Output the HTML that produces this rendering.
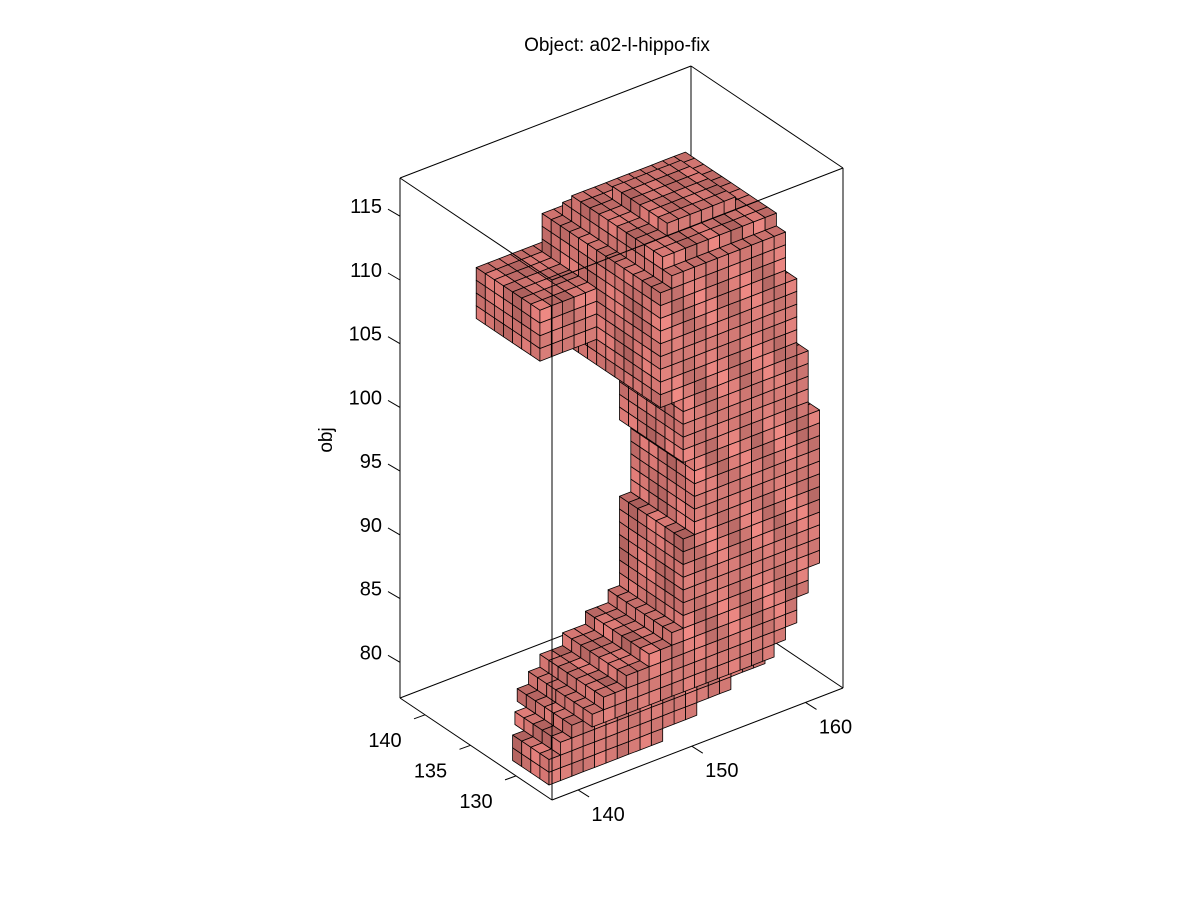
<!DOCTYPE html>
<html><head><meta charset="utf-8"><style>
html,body{margin:0;padding:0;background:#fff;}
svg text{font-family:"Liberation Sans",sans-serif;fill:#000;}
</style></head><body>
<svg id="chart" width="1200" height="900" viewBox="0 0 1200 900" xmlns="http://www.w3.org/2000/svg">
<rect x="0" y="0" width="1200" height="900" fill="#fff"/>
<text x="617" y="51" font-size="19" text-anchor="middle">Object: a02-l-hippo-fix</text>
<text x="0" y="0" font-size="19" text-anchor="middle" transform="translate(332,440) rotate(-90)">obj</text>
<g id="back"></g>
<g id="vox"></g>
<g id="front"></g>
<g id="ticks"></g>
</svg>
<script>
// axis ranges
const xRange = [137.7, 163.3];
const yRange = [126.05, 142.75];
const zRange = [77.2, 118.0];
const xTicks = [140, 150, 160];
const yTicks = [130, 135, 140];
const zTicks = [80, 85, 90, 95, 100, 105, 110, 115];
// voxel slices: per z level, x range and y range
const sliceZ  = [77,78,79,80,81,82,83,84,85,86,87,88,89,90,91,92,93,94,95,96,97,98,99,100,101,102,103,104,105,106,107,108,109,110,111,112,113,114,115];
const sliceXa = [139,139,140,141,142,143,145,147,149,150,150,150,150,150,150,150,151,151,151,151,151,151,150,150,150,150,150,148,148,148,148,148,148,148,148,148,149,149,151];
const sliceXb = [148,151,154,157,157,158,159,159,160,160,161,161,161,161,161,161,161,161,161,161,161,161,160,160,160,160,160,159,159,159,159,159,159,158,158,158,158,158,156];
const sliceYa = [128,128,128,128,127,127,127,127,127,127,127,127,127,127,127,127,127,127,127,127,127,127,127,127,127,127,127,127,127,127,127,127,127,127,127,127,127,128,130];
const sliceYb = [131,131,132,133,133,133,133,133,133,133,133,133,133,133,133,133,133,133,133,133,133,133,133,133,133,133,133,140,140,140,140,140,140,139,139,139,138,137,135];
// lobe block
const lobeZ = [106,107,108,109];
const lobeXa = [143,143,143,143];
const lobeXb = [147,147,147,147];
const lobeYa = [134,134,134,134];
const lobeYb = [140,140,140,140];

const NS = "http://www.w3.org/2000/svg";
const FB = [552, 800], XV = [291, -112], YV = [-152, -102], ZV = [0, -520];
function P(x, y, z) {
  const fx = (x - xRange[0]) / (xRange[1] - xRange[0]);
  const fy = (y - yRange[0]) / (yRange[1] - yRange[0]);
  const fz = (z - zRange[0]) / (zRange[1] - zRange[0]);
  return [FB[0] + fx * XV[0] + fy * YV[0] + fz * ZV[0], FB[1] + fx * XV[1] + fy * YV[1] + fz * ZV[1]];
}
function line(g, a, b, name) {
  const l = document.createElementNS(NS, "line");
  l.setAttribute("x1", a[0].toFixed(1)); l.setAttribute("y1", a[1].toFixed(1));
  l.setAttribute("x2", b[0].toFixed(1)); l.setAttribute("y2", b[1].toFixed(1));
  l.setAttribute("stroke", "#000"); l.setAttribute("stroke-width", "1");
  
  
  g.appendChild(l);
}
const [x0, x1] = xRange, [y0, y1] = yRange, [z0, z1] = zRange;
const back = document.getElementById("back"), front = document.getElementById("front");
line(back, P(x1, y1, z0), P(x1, y1, z1), "box-edge");
line(back, P(x0, y1, z0), P(x1, y1, z0), "box-edge");
line(back, P(x1, y0, z0), P(x1, y1, z0), "box-edge");
line(front, P(x0, y0, z0), P(x0, y0, z1), "box-edge");
line(front, P(x0, y0, z0), P(x1, y0, z0), "box-edge");
line(front, P(x0, y0, z0), P(x0, y1, z0), "box-edge");
line(front, P(x0, y1, z0), P(x0, y1, z1), "box-edge");
line(front, P(x1, y0, z0), P(x1, y0, z1), "box-edge");
line(front, P(x0, y0, z1), P(x1, y0, z1), "box-edge");
line(front, P(x0, y0, z1), P(x0, y1, z1), "box-edge");
line(front, P(x1, y1, z1), P(x1, y0, z1), "box-edge");
line(front, P(x1, y1, z1), P(x0, y1, z1), "box-edge");

// voxels
const occ = new Set();
const vox = [];
function add(x, y, z) { const k = x + "," + y + "," + z; if (!occ.has(k)) { occ.add(k); vox.push([x, y, z]); } }
for (let i = 0; i < sliceZ.length; i++)
  for (let x = sliceXa[i]; x <= sliceXb[i]; x++)
    for (let y = sliceYa[i]; y <= sliceYb[i]; y++) add(x, y, sliceZ[i]);
for (let i = 0; i < lobeZ.length; i++)
  for (let x = lobeXa[i]; x <= lobeXb[i]; x++)
    for (let y = lobeYa[i]; y <= lobeYb[i]; y++) add(x, y, lobeZ[i]);
const has = (x, y, z) => occ.has(x + "," + y + "," + z);
vox.sort((a, b) => (a[2] - a[0] - a[1]) - (b[2] - b[0] - b[1]));
const vg = document.getElementById("vox");
function shade(base, x, y, z) {
  const v = 0.95 + 0.13 * Math.sin(x * 1.7 + z * 0.9) * Math.cos(y * 1.3 - z * 0.5);
  return "rgb(" + base.map(c => Math.min(255, Math.round(c * v))).join(",") + ")";
}
function face(pts, fill) {
  const p = document.createElementNS(NS, "polygon");
  p.setAttribute("points", pts.map(q => q[0].toFixed(1) + "," + q[1].toFixed(1)).join(" "));
  p.setAttribute("fill", fill);
  p.setAttribute("stroke", "#000");
  p.setAttribute("stroke-width", "0.8");
  p.setAttribute("stroke-linejoin", "round");
  
  
  vg.appendChild(p);
}
for (const [x, y, z] of vox) {
  if (!has(x - 1, y, z)) face([P(x, y, z), P(x, y + 1, z), P(x, y + 1, z + 1), P(x, y, z + 1)], shade([212, 118, 114], x, y, z));
  if (!has(x, y - 1, z)) face([P(x, y, z), P(x + 1, y, z), P(x + 1, y, z + 1), P(x, y, z + 1)], shade([222, 128, 123], x, y, z));
  if (!has(x, y, z + 1)) face([P(x, y, z + 1), P(x + 1, y, z + 1), P(x + 1, y + 1, z + 1), P(x, y + 1, z + 1)], shade([208, 116, 112], x, y, z));
}

// ticks & labels
const tg = document.getElementById("ticks");
function label(x, y, s, anchor, name) {
  const t = document.createElementNS(NS, "text");
  t.setAttribute("x", x.toFixed(1)); t.setAttribute("y", y.toFixed(1));
  t.setAttribute("font-size", "20"); t.setAttribute("text-anchor", anchor);
  
  
  t.textContent = s; tg.appendChild(t);
}
for (const v of zTicks) {
  const a = P(x0, y1, v);
  line(tg, a, [a[0] - 12, a[1] - 7], "z-tick");
  label(a[0] - 18, a[1] - 3, String(v), "end", "z-tick-label");
}
for (const v of xTicks) {
  const a = P(v, y0, z0);
  line(tg, a, [a[0] + 11, a[1] + 7], "x-tick");
  label(a[0] + 30, a[1] + 31, String(v), "middle", "x-tick-label");
}
for (const v of yTicks) {
  const a = P(x0, v, z0);
  line(tg, a, [a[0] - 11, a[1] + 4], "y-tick");
  label(a[0] - 40, a[1] + 32, String(v), "middle", "y-tick-label");
}
</script>
</body></html>
